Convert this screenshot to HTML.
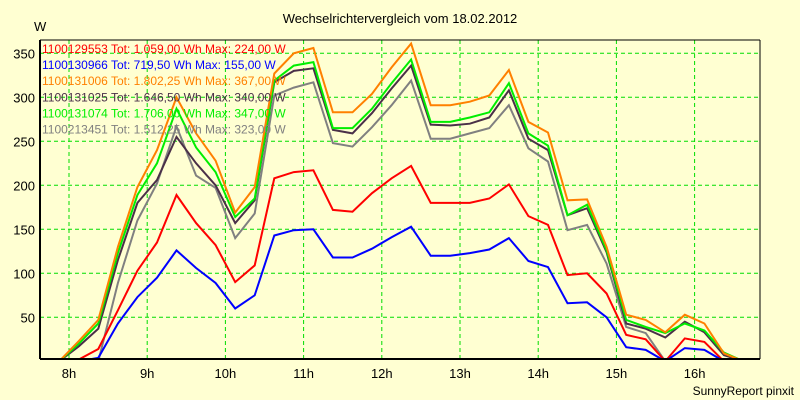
<!DOCTYPE html>
<html><head><meta charset="utf-8"><style>
body{margin:0;background:#ffffd2;}
svg{display:block;font-family:"Liberation Sans",sans-serif;}
</style></head><body>
<svg id="chart" width="800" height="400">
<rect x="0" y="0" width="800" height="400" fill="#ffffd2"/>
<text x="400" y="23" text-anchor="middle" font-size="13">Wechselrichtervergleich vom 18.02.2012</text>
<text x="34" y="31" font-size="13">W</text>
<text x="794" y="395" text-anchor="end" font-size="12">SunnyReport pinxit</text>
<g id="grid"></g>
<g id="xticks"></g>
<g id="yticks"></g>
<clipPath id="clip"><rect x="40" y="40" width="720" height="319"/></clipPath>
<g id="series" clip-path="url(#clip)"></g>
<line x1="40" y1="40" x2="40" y2="359" stroke="#000" stroke-width="2"/>
<line x1="40" y1="359" x2="760" y2="359" stroke="#000" stroke-width="2"/>
<line x1="40" y1="40" x2="760" y2="40" stroke="#000" stroke-width="1"/>
<line x1="760" y1="40" x2="760" y2="359" stroke="#000" stroke-width="1"/>
<g id="legend"></g>
</svg>
<script>
const startHour = 7.625;
const stepHours = 0.25;
const yTicks = [50,100,150,200,250,300,350];
const xTicks = [8,9,10,11,12,13,14,15,16];
const xTickLabels = ["8h","9h","10h","11h","12h","13h","14h","15h","16h"];
const seriesNames = ["1100129553 Tot: 1.059,00 Wh Max: 224,00 W","1100130966 Tot: 719,50 Wh Max: 155,00 W","1100131006 Tot: 1.802,25 Wh Max: 367,00 W","1100131025 Tot: 1.646,50 Wh Max: 340,00 W","1100131074 Tot: 1.706,00 Wh Max: 347,00 W","1100213451 Tot: 1.512,25 Wh Max: 323,00 W"];
const seriesColors = ["#ff0000","#0000ff","#ff8000","#4a3048","#00ee00","#808080"];
const red = [0,0,2,14,58,103,135,189,157,132,90,109,208,215,217,172,170,191,208,222,180,180,180,185,201,165,155,98,100,77,30,25,0,26,22,0,0,0];
const blue = [0,0,0,4,43,73,95,126,106,89,60,75,143,149,150,118,118,128,141,153,120,120,123,127,140,114,107,66,67,50,16,13,0,15,13,0,0,0];
const orange = [0,0,23,47,130,198,240,300,259,228,169,198,327,350,356,283,283,304,334,361,291,291,295,302,331,272,260,183,184,130,53,47,33,53,43,9,0,0];
const dark = [0,0,17,37,115,180,206,255,225,200,157,183,317,330,333,263,259,282,310,336,269,268,270,277,308,253,240,166,174,124,43,37,27,45,33,7,0,0];
const green = [0,0,20,43,123,189,225,287,243,215,164,185,319,336,340,265,265,287,316,343,272,272,277,283,316,259,245,166,178,126,47,39,32,43,35,10,0,0];
const gray = [0,0,0,0,89,160,202,267,211,197,140,168,302,311,317,248,244,266,291,319,253,253,259,265,291,242,227,149,155,111,39,32,0,0,0,0,0,0];
const seriesData = [red, blue, orange, dark, green, gray];
const drawOrder = [5,3,4,2,0,1];

const NS = "http://www.w3.org/2000/svg";
function xOf(h){ return 69 + (h - 8) * 78.2; }
function yOf(v){ return 361.3 - v * 0.88; }
function mk(tag, attrs, parent){ const e=document.createElementNS(NS,tag); for(const k in attrs) e.setAttribute(k,attrs[k]); parent.appendChild(e); return e; }

const grid=document.getElementById('grid'), xt=document.getElementById('xticks'), yt=document.getElementById('yticks');
yTicks.forEach(v=>{
  const l=mk('line',{x1:40,x2:760,y1:yOf(v),y2:yOf(v),stroke:'#00dd00','stroke-dasharray':'4,3'},grid);
  
  
  const t=mk('text',{x:35,y:yOf(v)+5,'text-anchor':'end','font-size':13},yt);
  t.textContent=v;
  
  
});
xTicks.forEach((h,i)=>{
  const l=mk('line',{x1:xOf(h),x2:xOf(h),y1:40,y2:359,stroke:'#00dd00','stroke-dasharray':'4,3'},grid);
  
  
  const t=mk('text',{x:xOf(h),y:378,'text-anchor':'middle','font-size':13},xt);
  t.textContent=xTickLabels[i];
  
  
});
const sg=document.getElementById('series');
drawOrder.forEach(si=>{
  const pts=seriesData[si].map((v,k)=>xOf(startHour+k*stepHours).toFixed(1)+','+yOf(v).toFixed(1)).join(' ');
  const p=mk('polyline',{points:pts,fill:'none',stroke:seriesColors[si],'stroke-width':2,'stroke-linejoin':'miter'},sg);
  
  
});
const lg=document.getElementById('legend');
seriesNames.forEach((n,i)=>{
  const t=mk('text',{x:42,y:53+i*16.1,'font-size':12,fill:seriesColors[i]},lg);
  t.textContent=n;
  
  
});
</script>
</body></html>
